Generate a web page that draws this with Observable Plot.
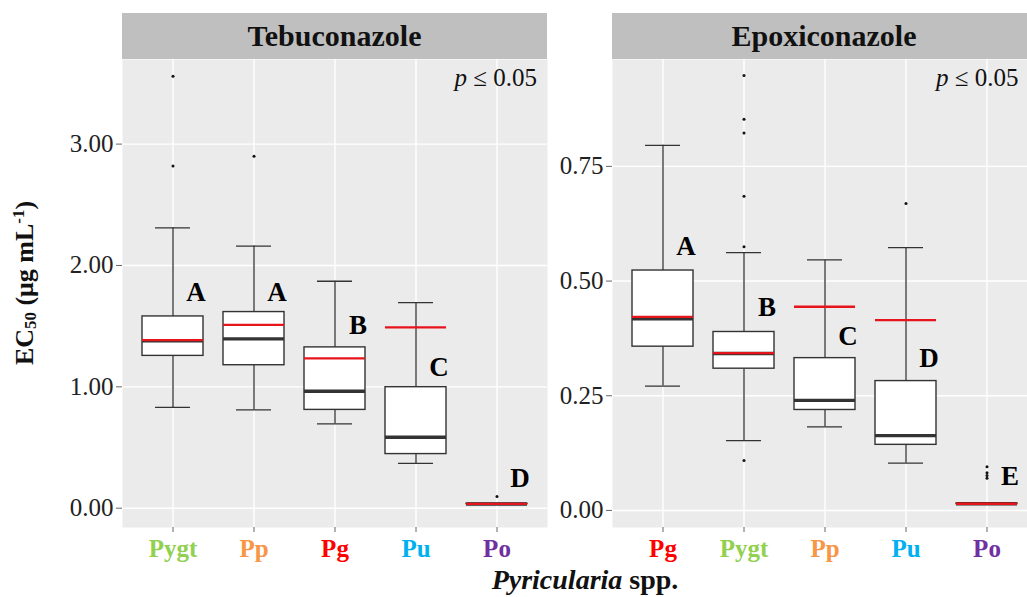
<!DOCTYPE html>
<html>
<head>
<meta charset="utf-8">
<script src="https://cdn.jsdelivr.net/npm/d3@7"></script>
<script src="https://cdn.jsdelivr.net/npm/@observablehq/plot@0.6"></script>
<style>
  html, body { margin: 0; padding: 0; background: #fff; overflow: hidden; }
  #wrap { position: relative; width: 1027px; height: 597px; overflow: hidden; font-family: "Liberation Serif", serif; }
  #wrap svg { position: absolute; top: 0; }
  .strip { position: absolute; top: 13px; height: 46px; background: #bfbfbf; display: flex; align-items: center; justify-content: center; font-weight: bold; font-size: 30px; color: #111; }
  .ptxt { position: absolute; top: 65px; font-size: 25px; line-height: 1; white-space: nowrap; color: #111; }
  .ytitle { position: absolute; left: 25px; top: 283px; transform: translate(-50%, -50%) rotate(-90deg); font-weight: bold; font-size: 26px; white-space: nowrap; color: #111; }
  .xtitle { position: absolute; top: 566px; left: 585px; transform: translateX(-50%); font-weight: bold; font-size: 28px; line-height: 1; white-space: nowrap; color: #111; }
</style>
</head>
<body>
<div id="wrap"></div>
<script>
// ---------- data ----------
const colorMap = {Pygt: "#92d050", Pp: "#f79646", Pg: "#ff0000", Pu: "#00b0f0", Po: "#7030a0"};

// Tebuconazole
const tebCats   = ["Pygt", "Pp", "Pg", "Pu", "Po"];
const tebLow    = [0.83, 0.81, 0.694, 0.369, 0.032];
const tebQ1     = [1.255, 1.178, 0.81, 0.446, 0.034];
const tebMed    = [1.38, 1.395, 0.964, 0.584, 0.035];
const tebQ3     = [1.58, 1.616, 1.325, 0.997, 0.036];
const tebHigh   = [2.31, 2.16, 1.87, 1.693, 0.038];
const tebMean   = [1.385, 1.51, 1.234, 1.49, 0.036];
const tebLetters = ["A", "A", "B", "C", "D"];
const tebLetterY = [1.78, 1.78, 1.51, 1.16, 0.243];
const tebOutCat = ["Pygt", "Pygt", "Pp", "Po"];
const tebOutVal = [3.56, 2.82, 2.90, 0.097];
const tebTicks  = [0, 1, 2, 3];

// Epoxiconazole
const epoCats   = ["Pg", "Pygt", "Pp", "Pu", "Po"];
const epoLow    = [0.271, 0.152, 0.182, 0.103, 0.013];
const epoQ1     = [0.357, 0.309, 0.219, 0.143, 0.014];
const epoMed    = [0.418, 0.342, 0.240, 0.163, 0.0145];
const epoQ3     = [0.523, 0.389, 0.332, 0.282, 0.015];
const epoHigh   = [0.796, 0.562, 0.546, 0.573, 0.016];
const epoMean   = [0.422, 0.343, 0.444, 0.415, 0.0146];
const epoLetters = ["A", "B", "C", "D", "E"];
const epoLetterY = [0.576, 0.443, 0.38, 0.332, 0.074];
const epoOutCat = ["Pygt", "Pygt", "Pygt", "Pygt", "Pygt", "Pygt", "Pu", "Po", "Po", "Po", "Po"];
const epoOutVal = [0.948, 0.853, 0.823, 0.685, 0.575, 0.109, 0.669, 0.095, 0.082, 0.076, 0.07];
const epoTicks  = [0, 0.25, 0.5, 0.75];

// ---------- drawing ----------
function panel(o) {
  const rows = o.cats.map((c, i) => ({
    cat: c, low: o.low[i], q1: o.q1[i], med: o.med[i], q3: o.q3[i],
    high: o.high[i], mean: o.mean[i], letter: o.letters[i], ly: o.letterY[i]
  }));
  const outliers = o.outCat.map((c, i) => ({cat: c, v: o.outVal[i]}));
  const dark = "#333333";
  return Plot.plot({
    width: o.width, height: 597,
    marginTop: 59, marginBottom: 70, marginLeft: o.marginLeft, marginRight: 0,
    style: {fontFamily: "Liberation Serif", background: "transparent", overflow: "visible"},
    x: {type: "band", domain: o.cats, paddingInner: 0.25, paddingOuter: 0.225},
    y: {domain: o.yDomain},
    marks: [
      Plot.frame({fill: "#ebebeb", stroke: "none"}),
      Plot.gridY(o.ticks, {stroke: "white", strokeOpacity: 1, strokeWidth: 1.4}),
      Plot.gridX({stroke: "white", strokeOpacity: 1, strokeWidth: 1.4}),
      Plot.axisY(o.ticks, {tickFormat: d3.format(".2f"), fontSize: 25, tickSize: 6, tickPadding: 3,
        stroke: "#666", fill: "#222", label: null}),
      Plot.axisX({fontSize: 25, fontWeight: "bold", tickSize: 5, tickPadding: 7,
        stroke: "#666", fill: d => colorMap[d], label: null}),
      Plot.ruleX(rows, {x: "cat", y1: "low", y2: "q1", stroke: dark, strokeWidth: 1.3}),
      Plot.ruleX(rows, {x: "cat", y1: "q3", y2: "high", stroke: dark, strokeWidth: 1.3}),
      Plot.tickY(rows, {x: "cat", y: "low", insetLeft: 13, insetRight: 13, stroke: dark, strokeWidth: 1.3}),
      Plot.tickY(rows, {x: "cat", y: "high", insetLeft: 13, insetRight: 13, stroke: dark, strokeWidth: 1.3}),
      Plot.barY(rows, {x: "cat", y1: "q1", y2: "q3", fill: "white", stroke: dark, strokeWidth: 1.4}),
      Plot.tickY(rows, {x: "cat", y: "med", stroke: dark, strokeWidth: 3.4}),
      Plot.tickY(rows, {x: "cat", y: "mean", stroke: "#e8141b", strokeWidth: 2.3}),
      Plot.dot(outliers, {x: "cat", y: "v", r: 1.5, fill: "#111", stroke: "none"}),
      Plot.text(rows, {x: "cat", y: "ly", text: "letter", dx: 23, fontSize: 27, fontWeight: "bold", fill: "#000"})
    ]
  });
}

const wrap = document.getElementById("wrap");

const left = panel({
  cats: tebCats, low: tebLow, q1: tebQ1, med: tebMed, q3: tebQ3, high: tebHigh, mean: tebMean,
  letters: tebLetters, letterY: tebLetterY, outCat: tebOutCat, outVal: tebOutVal,
  ticks: tebTicks, yDomain: [-0.159, 3.697], width: 547, marginLeft: 122
});
left.style.left = "0px";
wrap.appendChild(left);

const right = panel({
  cats: epoCats, low: epoLow, q1: epoQ1, med: epoMed, q3: epoQ3, high: epoHigh, mean: epoMean,
  letters: epoLetters, letterY: epoLetterY, outCat: epoOutCat, outVal: epoOutVal,
  ticks: epoTicks, yDomain: [-0.0372, 0.983], width: 489, marginLeft: 65
});
right.style.left = "547px";
wrap.appendChild(right);

// strips, annotations and titles
function addDiv(cls, html, css) {
  const d = document.createElement("div");
  d.className = cls; d.innerHTML = html;
  Object.assign(d.style, css);
  wrap.appendChild(d);
}
addDiv("strip", "Tebuconazole", {left: "122px", width: "425px"});
addDiv("strip", "Epoxiconazole", {left: "612px", width: "424px"});
addDiv("ptxt", "<i>p</i> ≤ 0.05", {right: (1027 - 537) + "px"});
addDiv("ptxt", "<i>p</i> ≤ 0.05", {left: "936px"});
addDiv("ytitle", "EC<sub style=\"font-size:0.65em;vertical-align:-0.15em\">50</sub> (μg mL<sup style=\"font-size:0.65em;vertical-align:0.55em\">-1</sup>)", {});
addDiv("xtitle", "<i>Pyricularia</i> spp.", {});
</script>
</body>
</html>
